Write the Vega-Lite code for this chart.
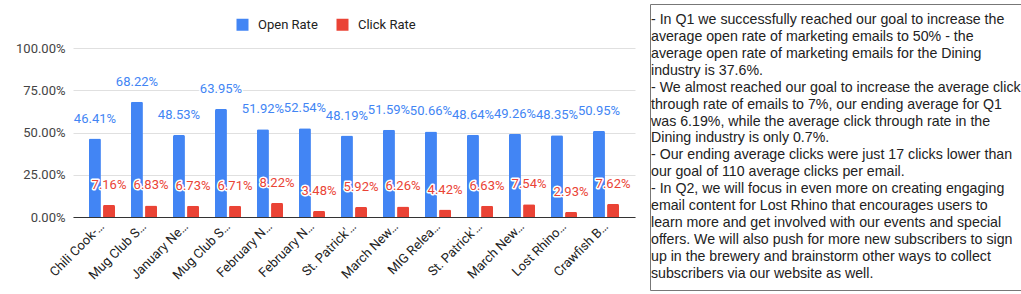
{
  "$schema": "https://vega.github.io/schema/vega-lite/v6.json",
  "padding": {"left": 0, "top": 3, "right": 0, "bottom": 0},
  "autosize": {"type": "pad"},
  "background": "white",
  "spacing": 14,
  "config": {
    "font": "Roboto",
    "view": {"stroke": null},
    "axis": {"labelFont": "Roboto"},
    "legend": {"labelFont": "Roboto"}
  },
  "datasets": {
    "bars": [
      {"campaign": "Chili Cook-…", "series": "Open Rate", "rate": 0.4641},
      {"campaign": "Chili Cook-…", "series": "Click Rate", "rate": 0.0716},
      {"campaign": "Mug Club S…", "series": "Open Rate", "rate": 0.6822},
      {"campaign": "Mug Club S…", "series": "Click Rate", "rate": 0.0683},
      {"campaign": "January Ne…", "series": "Open Rate", "rate": 0.4853},
      {"campaign": "January Ne…", "series": "Click Rate", "rate": 0.0673},
      {"campaign": "Mug Club S…\u200b", "series": "Open Rate", "rate": 0.6395},
      {"campaign": "Mug Club S…\u200b", "series": "Click Rate", "rate": 0.0671},
      {"campaign": "February N…", "series": "Open Rate", "rate": 0.5192},
      {"campaign": "February N…", "series": "Click Rate", "rate": 0.0822},
      {"campaign": "February N…\u200b", "series": "Open Rate", "rate": 0.5254},
      {"campaign": "February N…\u200b", "series": "Click Rate", "rate": 0.0348},
      {"campaign": "St. Patrick'…", "series": "Open Rate", "rate": 0.4819},
      {"campaign": "St. Patrick'…", "series": "Click Rate", "rate": 0.0592},
      {"campaign": "March New…", "series": "Open Rate", "rate": 0.5159},
      {"campaign": "March New…", "series": "Click Rate", "rate": 0.0626},
      {"campaign": "MIG Relea…", "series": "Open Rate", "rate": 0.5066},
      {"campaign": "MIG Relea…", "series": "Click Rate", "rate": 0.0442},
      {"campaign": "St. Patrick'…\u200b", "series": "Open Rate", "rate": 0.4864},
      {"campaign": "St. Patrick'…\u200b", "series": "Click Rate", "rate": 0.0663},
      {"campaign": "March New…\u200b", "series": "Open Rate", "rate": 0.4926},
      {"campaign": "March New…\u200b", "series": "Click Rate", "rate": 0.0754},
      {"campaign": "Lost Rhino…", "series": "Open Rate", "rate": 0.4835},
      {"campaign": "Lost Rhino…", "series": "Click Rate", "rate": 0.0293},
      {"campaign": "Crawfish B…", "series": "Open Rate", "rate": 0.5095},
      {"campaign": "Crawfish B…", "series": "Click Rate", "rate": 0.0762}
    ],
    "notes": [
      {"line": 1, "text": "- In Q1 we successfully reached our goal to increase the"},
      {"line": 2, "text": "average open rate of marketing emails to 50% - the"},
      {"line": 3, "text": "average open rate of marketing emails for the Dining"},
      {"line": 4, "text": "industry is 37.6%."},
      {"line": 5, "text": "- We almost reached our goal to increase the average click"},
      {"line": 6, "text": "through rate of emails to 7%, our ending average for Q1"},
      {"line": 7, "text": "was 6.19%, while the average click through rate in the"},
      {"line": 8, "text": "Dining industry is only 0.7%."},
      {"line": 9, "text": "- Our ending average clicks were just 17 clicks lower than"},
      {"line": 10, "text": "our goal of 110 average clicks per email."},
      {"line": 11, "text": "- In Q2, we will focus in even more on creating engaging"},
      {"line": 12, "text": "email content for Lost Rhino that encourages users to"},
      {"line": 13, "text": "learn more and get involved with our events and special"},
      {"line": 14, "text": "offers. We will also push for more new subscribers to sign"},
      {"line": 15, "text": "up in the brewery and brainstorm other ways to collect"},
      {"line": 16, "text": "subscribers via our website as well."}
    ]
  },
  "hconcat": [
    {
      "width": 562,
      "height": 213,
      "data": {"name": "bars"},
      "encoding": {
        "x": {
          "field": "campaign", "type": "nominal", "sort": null,
          "scale": {"paddingInner": 0.38, "paddingOuter": 0.38},
          "axis": {"title": null, "labelAngle": -45, "labelAlign": "right", "labelBaseline": "middle",
                   "labelPadding": 7, "labelFontSize": 13, "labelColor": "#222", "ticks": false,
                   "domainColor": "#333", "labelOverlap": false, "labelLimit": 0}
        },
        "xOffset": {"field": "series", "type": "nominal", "sort": ["Open Rate", "Click Rate"], "scale": {"paddingInner": 0.15}},
        "y": {
          "field": "rate", "type": "quantitative",
          "scale": {"domain": [0, 1.2604], "nice": false},
          "axis": {"title": null, "values": [0, 0.25, 0.5, 0.75, 1], "format": ".2%", "labelFontSize": 13,
                   "labelColor": "#444", "labelPadding": 8, "ticks": false, "domain": false,
                   "gridColor": "#e0e0e0", "minExtent": 73}
        }
      },
      "layer": [
        {
          "mark": {"type": "bar", "cornerRadiusTopLeft": 1.5, "cornerRadiusTopRight": 1.5},
          "encoding": {
            "color": {
              "field": "series", "type": "nominal",
              "scale": {"domain": ["Open Rate", "Click Rate"], "range": ["#4285f4", "#ea4335"]},
              "legend": {"orient": "none", "legendX": 163, "legendY": 14, "direction": "horizontal",
                         "title": null, "symbolType": "square", "symbolSize": 144, "labelFontSize": 13,
                         "labelColor": "#222", "labelOffset": 9, "columnPadding": 18, "symbolStrokeWidth": 0}
            }
          }
        },
        {
          "mark": {"type": "text", "fontSize": 13, "dy": -20, "baseline": "middle", "fill": "white",
                   "stroke": "white", "strokeWidth": 3, "strokeJoin": "round"},
          "encoding": {"text": {"field": "rate", "format": ".2%"}}
        },
        {
          "mark": {"type": "text", "fontSize": 13, "dy": -20, "baseline": "middle"},
          "encoding": {
            "text": {"field": "rate", "format": ".2%"},
            "color": {"field": "series", "type": "nominal"}
          }
        }
      ]
    },
    {
      "width": 400,
      "height": 286,
      "view": {"stroke": "#777"},
      "data": {"name": "notes"},
      "mark": {"type": "text", "align": "left", "baseline": "middle", "dx": 1, "font": "Liberation Sans",
               "fontSize": 14.2, "color": "#222"},
      "encoding": {
        "x": {"datum": 0, "type": "quantitative", "scale": {"domain": [0, 1]}, "axis": null},
        "y": {"field": "line", "type": "quantitative",
              "scale": {"domain": [0.055, 16.95], "reverse": true, "nice": false, "zero": false}, "axis": null},
        "text": {"field": "text"}
      }
    }
  ]
}
